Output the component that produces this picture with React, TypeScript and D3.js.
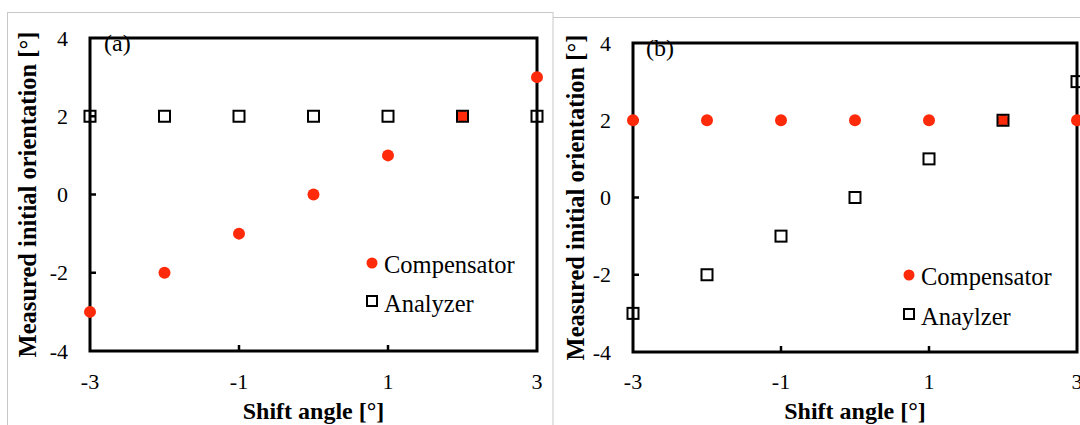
import React from "react";
import * as d3 from "d3";

const shiftAngles = [-3, -2, -1, 0, 1, 2, 3];
const aCompensator = [-3, -2, -1, 0, 1, 2, 3];
const aAnalyzer = [2, 2, 2, 2, 2, 2, 2];
const bCompensator = [2, 2, 2, 2, 2, 2, 2];
const bAnalyzer = [-3, -2, -1, 0, 1, 2, 3];
const xTickValues = [-3, -1, 1, 3];
const yTickValues = [-4, -2, 0, 2, 4];
const legendNamesA = ["Compensator", "Analyzer"];
const legendNamesB = ["Compensator", "Anaylzer"];

const RED = "#ff2a0a";
const FONT = "Liberation Serif";

type PanelProps = {
  x0: number; x1: number; y0: number; y1: number;
  label: string; labelX: number; labelY: number;
  comp: number[]; anal: number[];
  names: string[]; legX: number; legY1: number; legY2: number;
  titleX: number;
};

function Panel(p: PanelProps) {
  const x = d3.scaleLinear().domain([-3, 3]).range([p.x0, p.x1]);
  const y = d3.scaleLinear().domain([-4, 4]).range([p.y1, p.y0]);
  const half = 5.5;
  return (
    <g fontFamily={FONT}>
      {yTickValues.filter(v => v > -4 && v < 4).map(v => (
        <line key={"yt" + v} x1={p.x0} x2={p.x0 + 6} y1={y(v)} y2={y(v)} stroke="#000" strokeWidth={2.5} />
      ))}
      {xTickValues.filter(v => v > -3 && v < 3).map(v => (
        <line key={"xt" + v} x1={x(v)} x2={x(v)} y1={p.y1} y2={p.y1 - 6} stroke="#000" strokeWidth={2.5} />
      ))}
      <rect x={p.x0} y={p.y0} width={p.x1 - p.x0} height={p.y1 - p.y0} fill="none" stroke="#000" strokeWidth={3} />
      {yTickValues.map(v => (
        <text key={"yl" + v} x={p.x0 - 22} y={y(v) + 7.5} textAnchor="end" fontSize={22}>{String(v)}</text>
      ))}
      {xTickValues.map(v => (
        <text key={"xl" + v} x={x(v)} y={389} textAnchor="middle" fontSize={22}>{String(v)}</text>
      ))}
      <text x={(p.x0 + p.x1) / 2} y={419} textAnchor="middle" fontSize={24} fontWeight="bold">Shift angle [°]</text>
      <text transform={`translate(${p.titleX},${(p.y0 + p.y1) / 2}) rotate(-90)`} textAnchor="middle" fontSize={24.5} fontWeight="bold" dy={8}>Measured initial orientation [°]</text>
      <text x={p.labelX} y={p.labelY} fontSize={24}>{p.label}</text>
      {shiftAngles.map((a, i) => (
        <circle key={"c" + i} cx={x(a)} cy={y(p.comp[i])} r={6} fill={RED} />
      ))}
      {shiftAngles.map((a, i) => (
        <rect key={"s" + i} x={x(a) - half} y={y(p.anal[i]) - half} width={half * 2} height={half * 2} fill="none" stroke="#000" strokeWidth={2} />
      ))}
      <circle cx={p.legX} cy={p.legY1} r={5.5} fill={RED} />
      <text x={p.legX + 12} y={p.legY1 + 10} fontSize={24.5}>{p.names[0]}</text>
      <rect x={p.legX - 5} y={p.legY2 - 5} width={10} height={10} fill="none" stroke="#000" strokeWidth={2} />
      <text x={p.legX + 12} y={p.legY2 + 11} fontSize={24.5}>{p.names[1]}</text>
    </g>
  );
}

export default function App() {
  return (
    <div style={{ position: "absolute", left: 0, top: 0 }}>
      <svg width={1080} height={425} style={{ display: "block", background: "#fff" }}>
        <rect x={0} y={0} width={1080} height={425} fill="#fff" />
        <line x1={553} x2={1080} y1={17.5} y2={17.5} stroke="#c8c8c8" strokeWidth={1} />
        <rect x={7.5} y={12.5} width={545.5} height={430} fill="#fff" stroke="#c8c8c8" strokeWidth={1} />
        <Panel x0={90} x1={537} y0={38} y1={351} label="(a)" labelX={104} labelY={51}
          comp={aCompensator} anal={aAnalyzer} names={legendNamesA}
          legX={372} legY1={263} legY2={301} titleX={28} />
        <Panel x0={633} x1={1077} y0={43} y1={352} label="(b)" labelX={646} labelY={56}
          comp={bCompensator} anal={bAnalyzer} names={legendNamesB}
          legX={909} legY1={275} legY2={314} titleX={576} />
      </svg>
    </div>
  );
}
